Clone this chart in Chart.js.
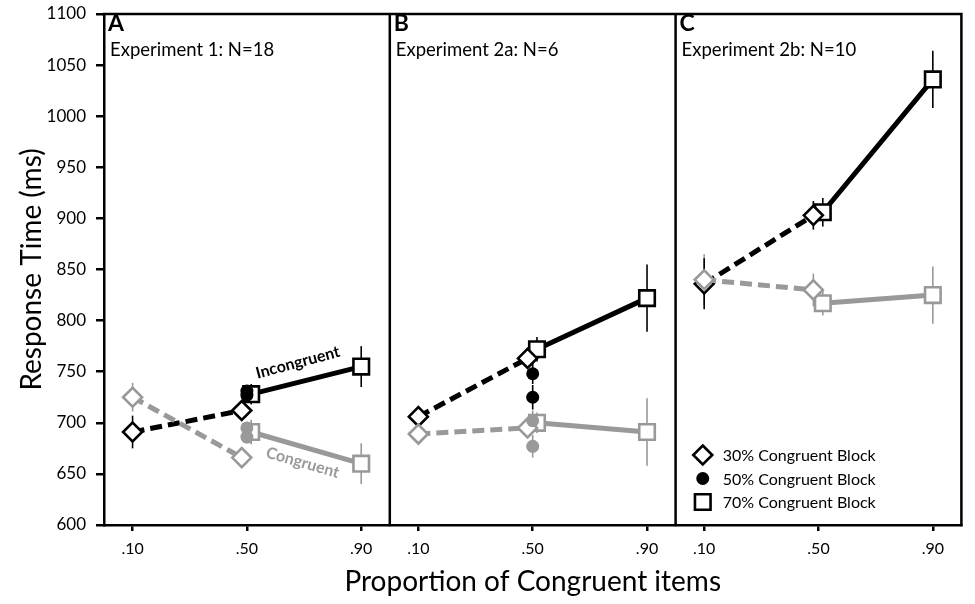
<!DOCTYPE html>
<html><head><meta charset="utf-8">
<script src="https://cdn.jsdelivr.net/npm/chart.js@4/dist/chart.umd.min.js"></script>
<style>html,body{margin:0;padding:0;background:#fff;}#wrap{width:975px;height:604px;}</style>
</head><body><div id="wrap"><canvas id="c" width="975" height="604"></canvas></div>
<script>
// ---- data ----
const proportions = [0.10, 0.50, 0.90];
const tickLabels = ['.10', '.50', '.90'];
const panelLetters = ['A', 'B', 'C'];
const experiments = ['Experiment 1: N=18', 'Experiment 2a: N=6', 'Experiment 2b: N=10'];
const yTicks = [600, 650, 700, 750, 800, 850, 900, 950, 1000, 1050, 1100];
// 30% congruent block: values at .10 and .50 (per panel A, B, C)
const incon30 = [[691, 712], [706, 763], [836, 903]];
const incon30Err = [[16, 8], [5, 6], [25, 14]];
const cong30 = [[725, 666], [689, 695], [840, 830]];
const cong30Err = [[14, 6], [4, 8], [25, 16]];
// 70% congruent block: values at .50 and .90
const incon70 = [[728, 755], [772, 822], [906, 1036]];
const incon70Err = [[10, 20], [12, 33], [14, 28]];
const cong70 = [[691, 660], [700, 691], [817, 825]];
const cong70Err = [[12, 20], [10, 33], [12, 28]];
// 50% congruent block: values at .50
const incon50 = [[731, 727], [748, 725], []];
const incon50Err = [[6, 6], [10, 12], []];
const cong50 = [[695, 686], [702, 677], []];
const cong50Err = [[6, 6], [10, 11], []];
const legendLabels = ['30% Congruent Block', '50% Congruent Block', '70% Congruent Block'];
const seriesLabels = ['Incongruent', 'Congruent'];

const BLACK = '#000000', GRAY = '#999999';
const FONT = 'Lato, "Open Sans", sans-serif';
const SHIFT_L = 0.018, SHIFT_R = 0.015;

function blockPoints(vals, errs, xa, xb) {
  const pts = [], e = [];
  vals.forEach((v, p) => {
    pts.push({x: p + xa, y: v[0]}); e.push(errs[p][0]);
    pts.push({x: p + xb, y: v[1]}); e.push(errs[p][1]);
    pts.push({x: p + 0.99, y: null}); e.push(null);
  });
  return {pts, e};
}
function circlePoints(vals, errs) {
  const pts = [], e = [];
  vals.forEach((v, p) => v.forEach((y, i) => { pts.push({x: p + proportions[1], y}); e.push(errs[p][i]); }));
  return {pts, e};
}
function lineDs(label, src, color, style, dash, radius) {
  return {label, data: src.pts, errors: src.e, borderColor: color, backgroundColor: '#fff',
    borderWidth: 5, borderDash: dash, pointStyle: style, pointRadius: radius, pointBorderColor: color,
    pointBackgroundColor: '#fff', pointBorderWidth: 2.6, spanGaps: false, tension: 0, showLine: true};
}
function dotDs(label, src, color) {
  return {label, data: src.pts, errors: src.e, borderColor: color, showLine: false, pointStyle: 'circle',
    pointRadius: 6.5, pointBackgroundColor: color, pointBorderColor: color, pointBorderWidth: 0};
}

const c30 = blockPoints(cong30, cong30Err, proportions[0], proportions[1] - SHIFT_L);
const c70 = blockPoints(cong70, cong70Err, proportions[1] + SHIFT_R, proportions[2]);
const i30 = blockPoints(incon30, incon30Err, proportions[0], proportions[1] - SHIFT_L);
const i70 = blockPoints(incon70, incon70Err, proportions[1] + SHIFT_R, proportions[2]);
const c50 = circlePoints(cong50, cong50Err);
const i50 = circlePoints(incon50, incon50Err);

const datasets = [
  dotDs('Congruent 50%', c50, GRAY),
  lineDs('Congruent 30%', c30, GRAY, 'rectRot', [12, 6], 9.5),
  lineDs('Congruent 70%', c70, GRAY, 'rect', [], 11),
  dotDs('Incongruent 50%', i50, BLACK),
  lineDs('Incongruent 30%', i30, BLACK, 'rectRot', [12, 6], 9.5),
  lineDs('Incongruent 70%', i70, BLACK, 'rect', [], 11)
];

const errorBars = {
  id: 'errorBars',
  beforeDatasetsDraw(chart) {
    const ctx = chart.ctx, ys = chart.scales.y;
    chart.data.datasets.forEach((ds, di) => {
      const meta = chart.getDatasetMeta(di);
      ctx.save();
      ctx.strokeStyle = ds.pointBorderColor; ctx.lineWidth = 1.6;
      meta.data.forEach((pt, i) => {
        const v = ds.data[i].y, e = ds.errors[i];
        if (v == null || e == null) return;
        ctx.beginPath();
        ctx.moveTo(pt.x, ys.getPixelForValue(v + e));
        ctx.lineTo(pt.x, ys.getPixelForValue(v - e));
        ctx.stroke();
      });
      ctx.restore();
    });
  }
};

function drawMarker(ctx, style, x, y, color) {
  ctx.save();
  ctx.lineWidth = 2.6; ctx.strokeStyle = color; ctx.fillStyle = style === 'circle' ? color : '#fff';
  ctx.beginPath();
  if (style === 'rectRot') { const r = 9.5; ctx.moveTo(x, y - r); ctx.lineTo(x + r, y); ctx.lineTo(x, y + r); ctx.lineTo(x - r, y); ctx.closePath(); }
  else if (style === 'circle') { ctx.arc(x, y, 6.5, 0, Math.PI * 2); }
  else { const s = 7.8; ctx.rect(x - s, y - s, 2 * s, 2 * s); }
  ctx.fill(); if (style !== 'circle') ctx.stroke();
  ctx.restore();
}

const decorations = {
  id: 'decorations',
  afterDraw(chart) {
    const ctx = chart.ctx, xs = chart.scales.x, ys = chart.scales.y, a = chart.chartArea;
    ctx.save();
    ctx.strokeStyle = '#000'; ctx.lineWidth = 2.5; ctx.lineCap = 'square';
    ctx.beginPath();
    ctx.moveTo(a.left, a.top); ctx.lineTo(a.right, a.top); ctx.lineTo(a.right, a.bottom);
    [1, 2].forEach(p => { const px = xs.getPixelForValue(p); ctx.moveTo(px, a.top); ctx.lineTo(px, a.bottom); });
    ctx.stroke();
    // panel labels
    ctx.fillStyle = '#000'; ctx.textBaseline = 'alphabetic'; ctx.textAlign = 'left';
    panelLetters.forEach((L, p) => {
      const px = xs.getPixelForValue(p);
      ctx.font = 'bold 23px ' + FONT; ctx.fillText(L, px + 4, a.top + 17);
      ctx.font = '18.5px ' + FONT; ctx.fillText(experiments[p], px + 6, a.top + 42);
    });
    // series annotations
    ctx.font = 'bold 16px ' + FONT; ctx.textAlign = 'center'; ctx.textBaseline = 'middle';
    ctx.save(); ctx.translate(xs.getPixelForValue(0.678), ys.getPixelForValue(759)); ctx.rotate(-15 * Math.PI / 180);
    ctx.fillStyle = BLACK; ctx.fillText(seriesLabels[0], 0, 0); ctx.restore();
    ctx.save(); ctx.translate(xs.getPixelForValue(0.695), ys.getPixelForValue(661)); ctx.rotate(16 * Math.PI / 180);
    ctx.fillStyle = GRAY; ctx.fillText(seriesLabels[1], 0, 0); ctx.restore();
    // legend in panel C
    const lx = xs.getPixelForValue(2.095), ly = ys.getPixelForValue(668.5);
    const styles = ['rectRot', 'circle', 'rect'];
    ctx.font = '16px ' + FONT; ctx.textAlign = 'left'; ctx.fillStyle = '#000';
    legendLabels.forEach((t, i) => {
      drawMarker(ctx, styles[i], lx, ly + i * 23.5, BLACK);
      ctx.fillStyle = '#000'; ctx.fillText(t, lx + 20, ly + i * 23.5 + 1);
    });
    ctx.restore();
  }
};

const xTickVals = [];
[0, 1, 2].forEach(p => proportions.forEach(v => xTickVals.push(p + v)));

function zeroPad(s) { s.paddingLeft = 0; s.paddingRight = 0; s.paddingTop = 0; s.paddingBottom = 0; }

new Chart(document.getElementById('c'), {
  type: 'line',
  data: {datasets},
  options: {
    responsive: false, animation: false, devicePixelRatio: 1,
    layout: {padding: {top: 14, right: 1, left: 0, bottom: 0}},
    plugins: {legend: {display: false}, tooltip: {enabled: false}},
    scales: {
      x: {
        type: 'linear', min: 0, max: 3,
        afterBuildTicks: s => { s.ticks = xTickVals.map(v => ({value: v})); },
        afterFit: s => { s.height = 79; zeroPad(s); },
        ticks: {autoSkip: false, maxRotation: 0, padding: 8, color: '#000', font: {family: FONT, size: 16},
          callback: (v, i) => tickLabels[i % 3]},
        grid: {drawOnChartArea: false, drawTicks: true, tickLength: 6, color: '#000', lineWidth: 2.5},
        border: {color: '#000', width: 2.5},
        title: {display: true, text: 'Proportion of Congruent items', color: '#000',
          font: {family: FONT, size: 28}, padding: {top: 0, bottom: 5}}
      },
      y: {
        min: 600, max: 1100,
        afterBuildTicks: s => { s.ticks = yTicks.map(v => ({value: v})); },
        afterFit: s => { s.width = 104; zeroPad(s); },
        ticks: {padding: 10, color: '#000', font: {family: FONT, size: 17}, callback: v => String(v)},
        grid: {drawOnChartArea: false, drawTicks: true, tickLength: 8, color: '#000', lineWidth: 2.5},
        border: {color: '#000', width: 2.5},
        title: {display: true, text: 'Response Time (ms)', color: '#000',
          font: {family: FONT, size: 28}, padding: {top: 15, bottom: 0}}
      }
    }
  },
  plugins: [errorBars, decorations]
});
</script></body></html>
